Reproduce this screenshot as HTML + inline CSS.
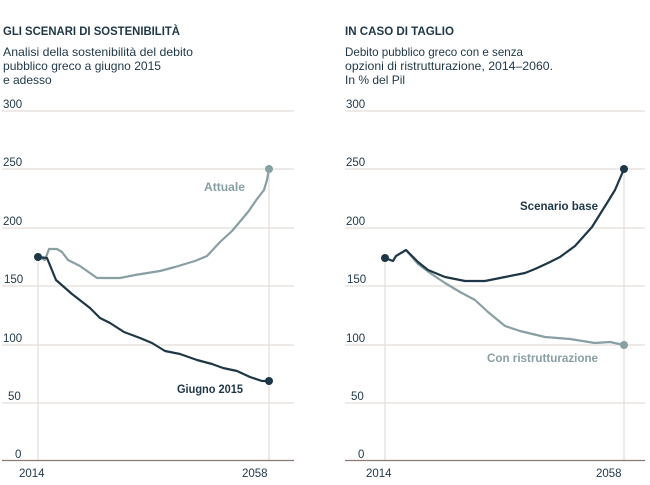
<!DOCTYPE html>
<html><head><meta charset="utf-8"><style>
html,body{margin:0;padding:0;background:#fff;}
svg{display:block;font-family:"Liberation Sans",sans-serif;}
</style></head><body>
<svg width="650" height="485" viewBox="0 0 650 485" xmlns="http://www.w3.org/2000/svg">
<g fill="#1e3747">
<text x="3" y="35" font-size="11.5" font-weight="bold" textLength="177" lengthAdjust="spacingAndGlyphs">GLI SCENARI DI SOSTENIBILITÀ</text>
<text x="3" y="56" font-size="12" textLength="190" lengthAdjust="spacingAndGlyphs">Analisi della sostenibilità del debito</text>
<text x="3" y="70" font-size="12" textLength="158" lengthAdjust="spacingAndGlyphs">pubblico greco a giugno 2015</text>
<text x="3" y="84" font-size="12">e adesso</text>
<text x="345" y="35" font-size="11.5" font-weight="bold" textLength="109" lengthAdjust="spacingAndGlyphs">IN CASO DI TAGLIO</text>
<text x="345" y="56" font-size="12" textLength="178" lengthAdjust="spacingAndGlyphs">Debito pubblico greco con e senza</text>
<text x="345" y="70" font-size="12" textLength="208" lengthAdjust="spacingAndGlyphs">opzioni di ristrutturazione, 2014–2060.</text>
<text x="345" y="84" font-size="12">In % del Pil</text>
</g>
<g stroke="#e3dedb" stroke-width="1.3">
<line x1="2" x2="294" y1="111" y2="111"/><line x1="2" x2="294" y1="169" y2="169"/><line x1="2" x2="294" y1="228" y2="228"/><line x1="2" x2="294" y1="286" y2="286"/><line x1="2" x2="294" y1="345" y2="345"/><line x1="2" x2="294" y1="403" y2="403"/>
<line x1="38" x2="38" y1="257" y2="460"/><line x1="269" x2="269" y1="169" y2="460"/>
<line x1="345" x2="645" y1="111" y2="111"/><line x1="345" x2="645" y1="169" y2="169"/><line x1="345" x2="645" y1="228" y2="228"/><line x1="345" x2="645" y1="286" y2="286"/><line x1="345" x2="645" y1="345" y2="345"/><line x1="345" x2="645" y1="403" y2="403"/>
<line x1="385" x2="385" y1="258" y2="460"/><line x1="624" x2="624" y1="169" y2="460"/>
</g>
<line x1="2" x2="294" y1="460.5" y2="460.5" stroke="#8a7a72" stroke-width="1.2"/>
<line x1="345" x2="645" y1="460.5" y2="460.5" stroke="#8a7a72" stroke-width="1.2"/>
<g fill="#1e3747" font-size="11.5">
<text x="3" y="108">300</text><text x="3" y="166">250</text><text x="3" y="225">200</text><text x="4" y="283">150</text><text x="3" y="342">100</text><text x="8" y="400">50</text><text x="15" y="458">0</text>
<text x="19" y="477">2014</text><text x="242" y="477">2058</text>
<text x="346" y="108">300</text><text x="346" y="166">250</text><text x="346" y="225">200</text><text x="347" y="283">150</text><text x="346" y="342">100</text><text x="351" y="400">50</text><text x="358" y="458">0</text>
<text x="366" y="477">2014</text><text x="596" y="477">2058</text>
</g>
<g fill="none" stroke-width="2.2" stroke-linejoin="round">
<polyline stroke="#889fa3" points="38,257 45,260 49,249 57,249 62,252 68,260 80,266 97,278 120,278 135,275 160,271 175,267 195,261 207,256 220,242 232,231 248,212 257,199 264,190 267,180 269,169"/>
<polyline stroke="#1e3747" points="38,257 47,258 56,280 72,294 90,308 100,318 110,323 124,332 140,338 152,343 165,351 180,354 197,360 212,364 223,368 237,371 250,377 262,381 269,381"/>
<polyline stroke="#889fa3" points="406,250 418,264 430,273 445,283 460,292 475,300 488,312 505,326 520,331 545,337 570,339 595,343 610,342 624,345"/>
<polyline stroke="#1e3747" points="385,258 393,261 396,256 406,250 418,262 428,270 445,277 465,281 485,281 505,277 525,273 535,269 548,263 560,257 575,246 592,227 607,203 615,190 624,169"/>
</g>
<circle cx="38" cy="257" r="4" fill="#1e3747"/><circle cx="269" cy="169" r="4" fill="#889fa3"/><circle cx="269" cy="381" r="4" fill="#1e3747"/>
<circle cx="385" cy="258" r="4" fill="#1e3747"/><circle cx="624" cy="169" r="4" fill="#1e3747"/><circle cx="624" cy="345" r="4" fill="#889fa3"/>
<g font-size="11.5" font-weight="bold">
<text x="204" y="191" fill="#889fa3" textLength="41" lengthAdjust="spacingAndGlyphs">Attuale</text>
<text x="177" y="393" fill="#1e3747" textLength="66" lengthAdjust="spacingAndGlyphs">Giugno 2015</text>
<text x="520" y="210" fill="#1e3747" textLength="78" lengthAdjust="spacingAndGlyphs">Scenario base</text>
<text x="487" y="362" fill="#889fa3" textLength="111" lengthAdjust="spacingAndGlyphs">Con ristrutturazione</text>
</g>
</svg>
</body></html>
